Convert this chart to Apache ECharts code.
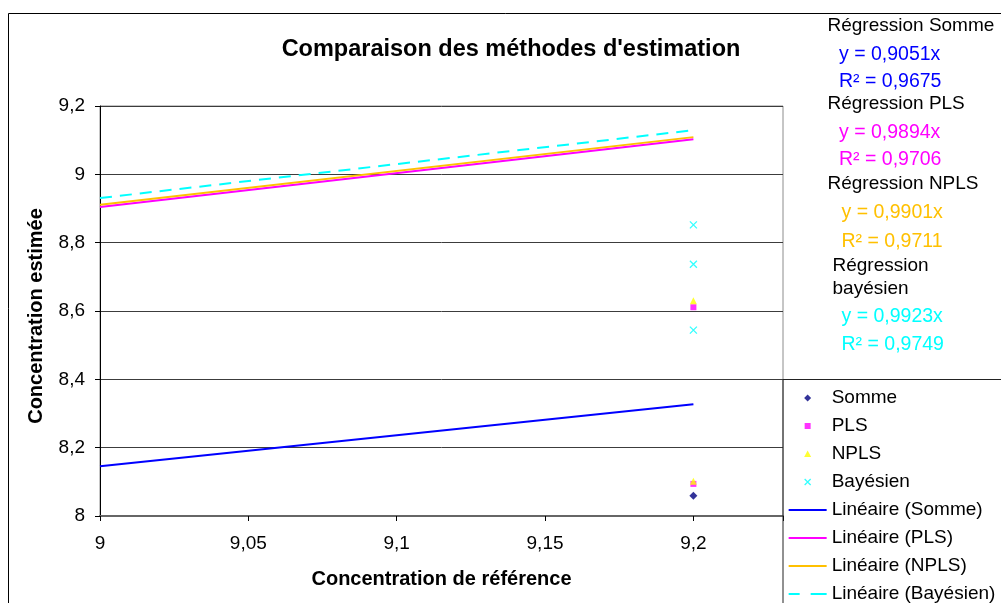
<!DOCTYPE html>
<html>
<head>
<meta charset="utf-8">
<script src="https://cdn.jsdelivr.net/npm/echarts@6/dist/echarts.min.js"></script>
<style>
  html, body { margin: 0; padding: 0; background: #fff; }
  #chart { width: 1001px; height: 603px; }
</style>
</head>
<body>
<div id="chart"></div>
<script>
// Reference concentration at which all estimates were measured
const refConcentration = 9.2;

// Estimated concentrations per method
const sommeValues = [8.059];
const plsValues = [8.611, 8.094];
const nplsValues = [8.630, 8.102];
const bayesValues = [8.852, 8.737, 8.544];

// Linear regressions through the origin (y = a·x) and their R²
const methodNames = ['Somme', 'PLS', 'NPLS', 'Bayésien'];
const regressionTitles = ['Régression Somme', 'Régression PLS', 'Régression NPLS', 'Régression\nbayésien'];
const slopes = [0.9051, 0.9894, 0.9901, 0.9923];
const rSquared = [0.9675, 0.9706, 0.9711, 0.9749];
const trendXRange = [9, 9.2];

// Axis ticks
const xTickStep = 0.05;
const yTickStep = 0.2;

const FONT = "'Liberation Sans', Arial, sans-serif";
const lineColors = ['#0000FF', '#FF00FF', '#FFC000', '#00FFFF'];
const frFmt = (v, d) => v.toFixed(d).replace('.', ',');
const tickFmt = v => String(Math.round(v * 100) / 100).replace('.', ',');

const chart = echarts.init(document.getElementById('chart'), null, { renderer: 'canvas' });

const pointsOf = vals => vals.map(v => [refConcentration, v]);
const trendOf = a => trendXRange.map(x => [x, a * x]);

// Legend icons drawn inside a 38x14 box
const PAD = 'M0,0M38,14';
const icons = {
  diamond: 'path://' + PAD + 'M19,3.5L22.5,7L19,10.5L15.5,7Z',
  square: 'path://' + PAD + 'M16,4H22V10H16Z',
  triangle: 'path://' + PAD + 'M19,3.5L22.5,10L15.5,10Z',
  cross: 'path://' + PAD + 'M16,4L22,10M22,4L16,10',
  line: 'path://' + PAD + 'M0,6H38V8H0Z',
  dashed: 'path://' + PAD + 'M0,6H11V8H0ZM22,6H38V8H22Z'
};

const trendNames = methodNames.map(n => 'Linéaire (' + n + ')');

const series = [
  { name: 'Somme', type: 'scatter', data: pointsOf(sommeValues), symbol: 'diamond', symbolSize: 8,
    itemStyle: { color: '#000080' } },
  { name: 'PLS', type: 'scatter', data: pointsOf(plsValues), symbol: 'rect', symbolSize: 6,
    itemStyle: { color: '#FF00FF' } },
  { name: 'NPLS', type: 'scatter', data: pointsOf(nplsValues), symbol: 'triangle', symbolSize: 7,
    itemStyle: { color: '#FFFF00' } },
  { name: 'Bayésien', type: 'scatter', data: pointsOf(bayesValues),
    symbol: 'path://M0,0L10,10M10,0L0,10', symbolSize: 7,
    itemStyle: { color: 'rgba(0,0,0,0)', borderColor: '#00FFFF', borderWidth: 1.3 } }
];
slopes.forEach((a, i) => {
  series.push({
    name: trendNames[i], type: 'line', data: trendOf(a), symbol: 'none',
    lineStyle: { color: lineColors[i], width: 2, type: i === 3 ? [12, 8] : 'solid' },
    itemStyle: { color: lineColors[i] }
  });
});

// Regression equations shown at the top right
const eqGraphics = [];
const titleY = [26, 103.5, 183.5, 277.5];
const eqY = [55, 133, 213, 316.5];
const r2Y = [82, 160, 241.5, 345];
const titleX = [827.5, 827.5, 827.5, 832.5];
const eqX = [839, 839, 841.5, 841.5];
slopes.forEach((a, i) => {
  eqGraphics.push({
    type: 'text', x: titleX[i], y: titleY[i],
    style: { text: regressionTitles[i], font: '19px ' + FONT, fill: '#000',
             align: 'left', verticalAlign: 'middle', lineHeight: 23 }
  });
  eqGraphics.push({
    type: 'text', x: eqX[i], y: eqY[i],
    style: { text: 'y = ' + frFmt(a, 4) + 'x', font: '19.5px ' + FONT, fill: lineColors[i],
             align: 'left', verticalAlign: 'middle' }
  });
  eqGraphics.push({
    type: 'text', x: eqX[i], y: r2Y[i],
    style: { text: 'R² = ' + frFmt(rSquared[i], 4), font: '19.5px ' + FONT, fill: lineColors[i],
             align: 'left', verticalAlign: 'middle' }
  });
});

const legendData = [
  { name: 'Somme', icon: icons.diamond, itemStyle: { color: '#000080' } },
  { name: 'PLS', icon: icons.square, itemStyle: { color: '#FF00FF' } },
  { name: 'NPLS', icon: icons.triangle, itemStyle: { color: '#FFFF00' } },
  { name: 'Bayésien', icon: icons.cross,
    itemStyle: { color: 'rgba(0,0,0,0)', borderColor: '#00FFFF', borderWidth: 1.3 } }
].concat(trendNames.map((n, i) => ({
  name: n, icon: i === 3 ? icons.dashed : icons.line,
  itemStyle: { color: lineColors[i], borderWidth: 0 }
})));

const option = {
  backgroundColor: '#fff',
  animation: false,
  title: {
    text: "Comparaison des méthodes d'estimation",
    left: 506, top: 33, textAlign: 'center',
    textStyle: { fontFamily: FONT, fontSize: 23.5, fontWeight: 'bold', color: '#000' }
  },
  grid: {
    left: 100, top: 106, right: 218, bottom: 87,
    show: true, borderColor: '#8c8c8c', borderWidth: 1, backgroundColor: 'transparent'
  },
  xAxis: {
    type: 'value', min: 9, max: 9.2302, interval: xTickStep,
    axisLine: { show: true, lineStyle: { color: '#666', width: 2 } },
    axisTick: { show: true, length: 5, lineStyle: { color: '#000' } },
    axisLabel: {
      margin: 18, fontFamily: FONT, fontSize: 19, color: '#000',
      formatter: v => Math.abs(v / xTickStep - Math.round(v / xTickStep)) > 1e-6 ? '' : tickFmt(v)
    },
    splitLine: { show: false }
  },
  yAxis: {
    type: 'value', min: 8, max: 9.2, interval: yTickStep,
    axisLine: { show: true, lineStyle: { color: '#000', width: 1 } },
    axisTick: { show: true, length: 5, lineStyle: { color: '#000' } },
    axisLabel: { margin: 15, fontFamily: FONT, fontSize: 19, color: '#000', formatter: tickFmt },
    splitLine: { show: true, lineStyle: { color: '#3c3c3c', width: 1 } }
  },
  legend: {
    orient: 'vertical', left: 788, top: 388.5, height: 260, padding: 0,
    itemWidth: 38, itemHeight: 14, itemGap: 9,
    textStyle: { fontFamily: FONT, fontSize: 19, color: '#000' },
    data: legendData
  },
  series: series,
  graphic: [
    // chart frame
    { type: 'rect', z: 100, silent: true,
      shape: { x: 8.5, y: 13.5, width: 1200, height: 800 },
      style: { fill: 'none', stroke: '#000', lineWidth: 1 } },
    // legend frame
    { type: 'rect', z: 100, silent: true,
      shape: { x: 783, y: 379.5, width: 400, height: 400 },
      style: { fill: 'none', stroke: '#222', lineWidth: 1 } },
    // y axis title
    { type: 'text', x: 36, y: 316, rotation: Math.PI / 2,
      style: { text: 'Concentration estimée', font: 'bold 20px ' + FONT, fill: '#000',
               align: 'center', verticalAlign: 'middle' } },
    // x axis title
    { type: 'text', x: 441.5, y: 579,
      style: { text: 'Concentration de référence', font: 'bold 20px ' + FONT, fill: '#000',
               align: 'center', verticalAlign: 'middle' } },
    ...eqGraphics
  ]
};

chart.setOption(option);
</script>
</body>
</html>
